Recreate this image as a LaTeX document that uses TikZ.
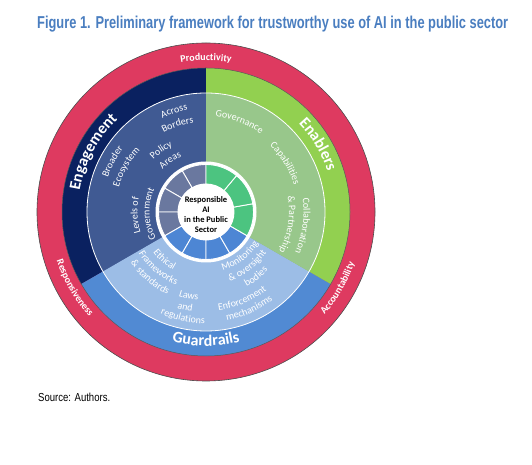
\documentclass[tikz,border=0pt]{standalone}
\usepackage{fontspec}
\usepackage{graphicx}
\usetikzlibrary{decorations.text}
\newfontfamily\carl{Carlito}
\newfontfamily\libs{Liberation Sans}
\definecolor{ringred}{HTML}{DE3A60}
\definecolor{navyband}{HTML}{0A2160}
\definecolor{enginner}{HTML}{405A93}
\definecolor{greenband}{HTML}{92D050}
\definecolor{greeninner}{HTML}{98C78B}
\definecolor{blueband}{HTML}{518AD3}
\definecolor{blueinner}{HTML}{9CBDE6}
\definecolor{segray}{HTML}{6A789F}
\definecolor{segreen}{HTML}{4CC480}
\definecolor{segblue}{HTML}{4D86D4}
\definecolor{titleblue}{HTML}{4A7EC0}
\newcommand\ringfont{\carl\bfseries\fontsize{10}{12}\selectfont\color{white}}
\newcommand\bandfont{\carl\bfseries\fontsize{16}{19}\selectfont\color{white}}
\newcommand\labfont{\carl\fontsize{10}{12}\selectfont\color{white}}
% clockwise text (tops outward): radius, centre angle, font, text
\newcommand\cwtext[4]{\path[decorate,decoration={text along path,text align=center,text={|#3|#4}}]
  ([shift={(O)}]#2+80:#1pt) arc[start angle=#2+80,end angle=#2-80,radius=#1pt];}
% counter-clockwise text (tops inward)
\newcommand\ccwtext[4]{\path[decorate,decoration={text along path,text align=center,text={|#3|#4}}]
  ([shift={(O)}]#2-80:#1pt) arc[start angle=#2-80,end angle=#2+80,radius=#1pt];}
% pie sector: colour, start, end, radius
\newcommand\piesector[4]{\fill[#1] (O) -- ([shift={(O)}]#2:#4pt) arc[start angle=#2,end angle=#3,radius=#4pt] -- cycle;}
\begin{document}
\begin{tikzpicture}
\useasboundingbox (0,0) rectangle (532pt,465pt);
\fill[white] (0,0) rectangle (532pt,465pt);
\coordinate (O) at (206pt,253pt);
% title
\node[anchor=base west,inner sep=0pt,text=titleblue] (title) at (37pt,436.7pt)
  {\resizebox{471pt}{\height}{\libs\bfseries\fontsize{17.2}{20}\selectfont Figure 1. Preliminary framework for trustworthy use of AI in the public sector}};
\node[anchor=base west,inner sep=0pt] (source) at (38pt,63.3pt)
  {\resizebox{72pt}{\height}{\libs\fontsize{11.6}{14}\selectfont Source: Authors.}};
% outer red ring
\filldraw[fill=ringred,draw=black!70,line width=0.6pt] (O) circle[radius=169pt];
% middle band
\piesector{navyband}{90}{210}{144}
\piesector{blueband}{210}{330}{144}
\piesector{greenband}{-30}{90}{144}
\draw[black!65,line width=0.5pt] (O) circle[radius=144pt];
% inner sectors
\piesector{enginner}{90}{210}{119}
\piesector{blueinner}{210}{330}{119}
\piesector{greeninner}{-30}{90}{119}
\draw[white,line width=0.8pt] (O) circle[radius=119pt];
% inner segmented ring
\fill[white] (O) circle[radius=50.5pt];
\foreach \a/\b/\c in {90/120/segray,120/150/segray,150/180/segray,180/210/segray,
                      210/240/segblue,240/270/segblue,270/300/segblue,300/330/segblue,
                      -30/10/segreen,10/50/segreen,50/90/segreen}{
  \filldraw[fill=\c,draw=white,line width=0.9pt]
    ([shift={(O)}]\a:47.5pt) arc[start angle=\a,end angle=\b,radius=47.5pt]
    -- ([shift={(O)}]\b:28pt) arc[start angle=\b,end angle=\a,radius=28pt] -- cycle;
}
\fill[white] (O) circle[radius=28pt];
\node[align=center,inner sep=0pt,font=\carl\bfseries\fontsize{8.5}{10}\selectfont] (centre) at ([yshift=-3pt]O)
  {Responsible\\AI\\in the Public\\Sector};
% ring labels
\cwtext{151.5}{90}{\ringfont}{Productivity}
\ccwtext{157}{210}{\ringfont}{Responsiveness}
\ccwtext{157}{330}{\ringfont}{Accountability}
% band labels
\cwtext{128}{152}{\bandfont}{Engagement}
\cwtext{128}{31}{\bandfont}{Enablers}
\ccwtext{134}{270}{\bandfont}{Guardrails}
% engagement labels
\cwtext{103.5}{107.6}{\labfont}{Across}
\cwtext{90}{108}{\labfont}{Borders}
\cwtext{104}{151.7}{\labfont}{Broader}
\cwtext{90.5}{150.4}{\labfont}{Ecosystem}
\cwtext{74}{126}{\labfont}{Policy}
\cwtext{60.5}{124.7}{\labfont}{Areas}
\cwtext{68.5}{183}{\labfont}{Levels of}
\cwtext{56.5}{182}{\labfont}{Government}
% enablers labels
\cwtext{95.5}{69.7}{\labfont}{Governance}
\cwtext{92}{31.5}{\labfont}{Capabilities}
\cwtext{97.5}{-8}{\labfont}{Collaboration}
\cwtext{83}{-8.9}{\labfont}{{\&} Partnership}
% guardrails labels
\ccwtext{66.5}{229}{\labfont}{Ethical}
\ccwtext{79}{229.6}{\labfont}{Frameworks}
\ccwtext{91}{229.5}{\labfont}{{\&} standards}
\ccwtext{88.5}{258.4}{\labfont}{Laws}
\ccwtext{100.5}{257.7}{\labfont}{and}
\ccwtext{111.5}{257.6}{\labfont}{regulations}
\ccwtext{61}{307.6}{\labfont}{Monitoring}
\ccwtext{73}{307.5}{\labfont}{{\&} oversight}
\ccwtext{85}{307.7}{\labfont}{bodies}
\ccwtext{99}{292.6}{\labfont}{Enforcement}
\ccwtext{110.5}{294}{\labfont}{mechanisms}
\end{tikzpicture}
\end{document}
